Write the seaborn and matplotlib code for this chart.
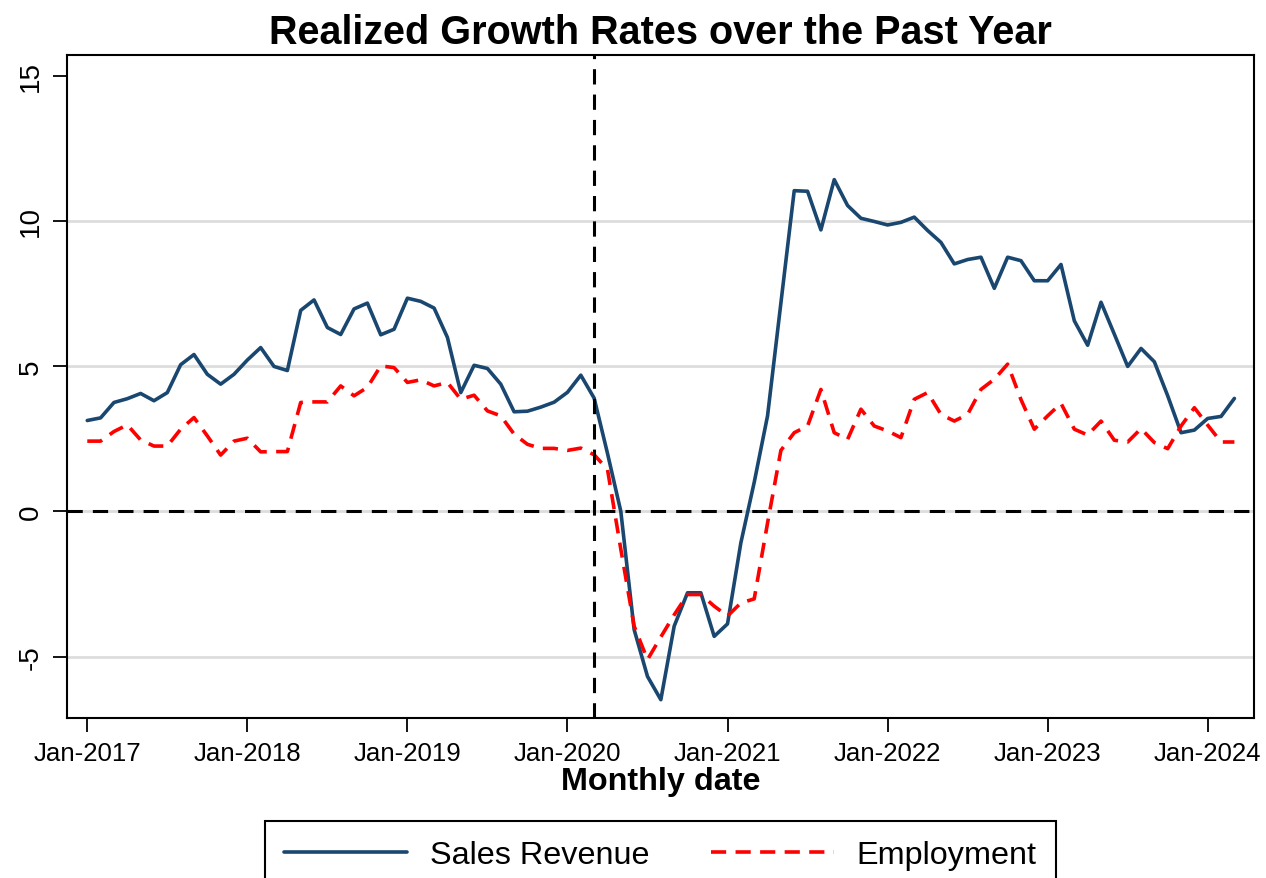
import numpy as np
import pandas as pd
import matplotlib
matplotlib.use('Agg')
import matplotlib.pyplot as plt
import seaborn as sns

# monthly data, Jan-2017 .. Mar-2024
months = pd.period_range('2017-01', '2024-03', freq='M')
sales_revenue = [
    3.13, 3.22, 3.75, 3.88, 4.06, 3.81, 4.09, 5.05, 5.40, 4.72,
    4.38, 4.72, 5.21, 5.64, 4.99, 4.85, 6.92, 7.28, 6.33, 6.09,
    6.97, 7.17, 6.08, 6.27, 7.34, 7.23, 7.00, 5.99, 4.09, 5.03,
    4.92, 4.38, 3.43, 3.45, 3.59, 3.76, 4.10, 4.69, 3.90, 2.00,
    0.00, -4.07, -5.68, -6.48, -3.95, -2.80, -2.80, -4.30, -3.87, -1.08,
    1.00, 3.29, 7.17, 11.04, 11.02, 9.69, 11.42, 10.53, 10.09, 9.98,
    9.86, 9.95, 10.13, 9.67, 9.26, 8.52, 8.67, 8.75, 7.68, 8.75,
    8.63, 7.94, 7.94, 8.50, 6.56, 5.72, 7.20, 6.10, 4.99, 5.61,
    5.15, 3.98, 2.71, 2.80, 3.20, 3.27, 3.89,
]
employment = [
    2.42, 2.42, 2.75, 2.98, 2.46, 2.25, 2.25, 2.83, 3.23, 2.60,
    1.94, 2.42, 2.52, 2.05, 2.06, 2.06, 3.75, 3.77, 3.77, 4.32,
    3.98, 4.27, 5.01, 4.95, 4.44, 4.53, 4.32, 4.44, 3.86, 4.00,
    3.46, 3.29, 2.66, 2.31, 2.17, 2.17, 2.10, 2.18, 1.95, 1.45,
    -1.30, -3.95, -5.10, -4.32, -3.56, -2.86, -2.86, -3.26, -3.60, -3.15,
    -3.01, -0.40, 2.10, 2.71, 2.94, 4.20, 2.71, 2.48, 3.52, 2.94,
    2.77, 2.54, 3.86, 4.09, 3.34, 3.11, 3.34, 4.20, 4.55, 5.07,
    3.85, 2.83, 3.29, 3.72, 2.83, 2.63, 3.11, 2.45, 2.39, 2.85,
    2.37, 2.16, 2.94, 3.57, 2.97, 2.39, 2.39,
]
event_month = pd.Period('2020-03', freq='M')
y_ticks = [-5, 0, 5, 10, 15]
grid_at = [-5, 0, 5, 10]

df = pd.DataFrame({
    't': np.arange(len(months)),
    'Sales Revenue': sales_revenue,
    'Employment': employment,
})
event_idx = int(np.where(months == event_month)[0][0])
jan_idx = [i for i, p in enumerate(months) if p.month == 1]
jan_labels = [months[i].strftime('%b-%Y') for i in jan_idx]

sns.set_theme(style='white')
plt.rcParams['font.family'] = ['Liberation Sans', 'DejaVu Sans']
plt.rcParams['axes.unicode_minus'] = False
plt.rcParams['text.color'] = 'black'
plt.rcParams['axes.labelcolor'] = 'black'
plt.rcParams['xtick.color'] = 'black'
plt.rcParams['ytick.color'] = 'black'

W, H = 1266, 879
fig = plt.figure(figsize=(W / 100, H / 100), dpi=100)
ax = fig.add_axes([67 / W, (H - 719) / H, (1254 - 67) / W, (719 - 56) / H])

# light grid, none at the top tick
for g in grid_at:
    ax.axhline(g, color='#dddddd', linewidth=2, zorder=0)

sns.lineplot(data=df, x='t', y='Sales Revenue', ax=ax, color='#1a476f',
             linewidth=2.6, label='Sales Revenue')
sns.lineplot(data=df, x='t', y='Employment', ax=ax, color='#ff0000',
             linewidth=2.6, linestyle=(0, (4.2, 2.6)), label='Employment')

ax.axhline(0, color='black', linewidth=2.2, linestyle=(0, (5, 3.3)), zorder=3)
ax.axvline(event_idx, color='black', linewidth=2.2, linestyle=(0, (5, 3.3)), zorder=3)

ax.set_xlim(-1.52, 87.47)
ax.set_ylim(-7.11, 15.71)
ax.set_yticks(y_ticks)
ax.set_xticks(jan_idx)
ax.set_xticklabels(jan_labels)

ax.tick_params(axis='both', direction='out', length=10, width=1.3, color='black',
               labelsize=18.6, labelcolor='black', bottom=True, left=True)
ax.tick_params(axis='x', pad=6.5)
ax.tick_params(axis='y', pad=6.5, labelrotation=90, labelsize=20)
for lbl in ax.get_yticklabels():
    lbl.set_va('center')

for s in ax.spines.values():
    s.set_visible(True)
    s.set_color('black')
    s.set_linewidth(1.5)

ax.set_title('Realized Growth Rates over the Past Year', fontsize=28.5,
             fontweight='bold', pad=9, color='black')
ax.set_xlabel('Monthly date', fontsize=23.3, fontweight='bold', labelpad=1)
ax.set_ylabel('')

handles, labels = ax.get_legend_handles_labels()
ax.get_legend().remove()
leg = fig.legend(handles, labels, loc='upper center',
                 bbox_to_anchor=(660.5 / W, 1 - 822 / H), ncol=2, fontsize=23.3,
                 frameon=True, fancybox=False, edgecolor='black', framealpha=1,
                 handlelength=3.8, handletextpad=0.7, columnspacing=1.9,
                 borderpad=0.6, borderaxespad=0)
leg.get_frame().set_linewidth(1.5)

fig.savefig('out.png', dpi=100)
